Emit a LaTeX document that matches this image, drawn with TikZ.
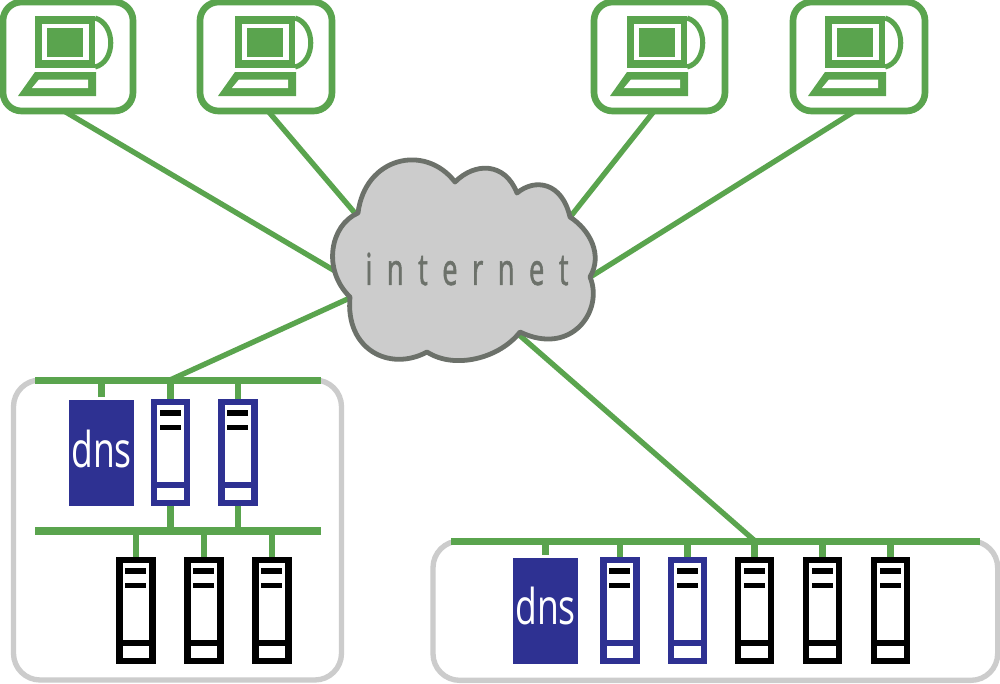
\documentclass[tikz,border=0pt]{standalone}
\usepackage{fontspec}
\newfontfamily\dnsfont[FakeStretch=0.72]{Open Sans}
\newfontfamily\netfont[FakeStretch=0.62,LetterSpace=33,FakeBold=1.2]{Open Sans}
\definecolor{grn}{HTML}{5AA44E}
\definecolor{blu}{HTML}{2E3192}
\definecolor{panel}{HTML}{CCCCCC}
\definecolor{cloudline}{HTML}{6C716A}
\definecolor{nettext}{HTML}{6C716A}
\tikzset{
  wire/.style={draw=grn,line width=4pt},
  stub/.style={draw=grn,line width=5pt},
  busbar/.style={fill=grn,inner sep=0pt,outer sep=0pt,minimum height=5.4pt},
  panelbox/.style={draw=panel,line width=4pt,rounded corners=20pt,inner sep=0pt,outer sep=0pt},
  pcbox/.style={draw=grn,fill=white,line width=5pt,rounded corners=14pt,inner sep=0pt,outer sep=0pt,minimum height=81.75pt},
  srvframe/.style={line width=4.8pt,fill=white,inner sep=0pt,outer sep=0pt,minimum width=24.75pt,minimum height=75.75pt},
  dnsbox/.style={fill=blu,text=white,inner sep=0pt,outer sep=0pt,minimum width=48.75pt,minimum height=79.5pt},
  dnstext/.style={text=white,inner sep=0pt,font=\dnsfont\fontsize{37}{37}\selectfont},
  cloudshape/.style={fill=panel,draw=cloudline,line width=3.6pt,line join=round},
  nettextnode/.style={text=nettext,inner sep=0pt,font=\netfont\fontsize{33}{33}\selectfont}
}
\newcommand{\pcicon}[4]{%
  \node[pcbox,minimum width=#4*0.75pt] (#1) at (#3,56.5) {};
  \begin{scope}[shift={(#2,0)}]
    \fill[grn] (35,16) rectangle (95,68);
    \fill[white] (42,24) rectangle (89,60);
    \fill[grn] (47,27.5) rectangle (83,57);
    \draw[grn,line width=3.8pt] (95,18) .. controls (116,24) and (116,62) .. (95,67);
    \fill[grn] (35,72) -- (96,72) -- (96,96) -- (18,96) -- cycle;
    \fill[white] (39,79.5) -- (88,79.5) -- (88,88) -- (32,88) -- cycle;
  \end{scope}}
\newcommand{\srv}[4]{% name, cx, top, colour
  \node[srvframe,draw=#4,anchor=north] (#1) at (#2,#3+3) {};
  \begin{scope}[shift={(#2,#3)}]
    \fill[#4] (-16.5,83) rectangle (16.5,88.5);
    \fill[black] (-11,11) rectangle (10,17);
    \fill[black] (-11,26) rectangle (10,30.5);
  \end{scope}}
\begin{document}
\begin{tikzpicture}[x=0.75pt,y=-0.75pt]
\useasboundingbox (0,0) rectangle (1000,683);
\fill[white] (0,0) rectangle (1000,683);
\node[panelbox,minimum width=246pt,minimum height=225pt,anchor=north west] (panelL) at (13.5,380) {};
\node[panelbox,minimum width=423.5pt,minimum height=104.5pt,anchor=north west] (panelR) at (433,541) {};
\fill[white] (0,0) rectangle (1000,378);
\pcicon{pcA}{0}{68}{130}
\pcicon{pcB}{200}{266}{132}
\pcicon{pcC}{592}{659.5}{131}
\pcicon{pcD}{790}{859}{132}
\node[busbar,minimum width=214.5pt] (busLa) at (178,380.5) {};
\node[busbar,minimum width=214.5pt] (busLb) at (178,531) {};
\node[busbar,minimum width=396.75pt] (busR) at (715.5,541.5) {};
\coordinate (ca) at (335,271);
\coordinate (cb) at (360,219);
\coordinate (cc) at (567,221);
\coordinate (cd) at (587,279);
\coordinate (ce) at (352,297);
\coordinate (cf) at (517,333);
\coordinate (jl) at (170,380);
\coordinate (jr) at (755,541);
\draw[wire] ([xshift=-3pt]pcA.south) -- (ca);
\draw[wire] ([xshift=1.5pt]pcB.south) -- (cb);
\draw[wire] ([xshift=-4pt]pcC.south) -- (cc);
\draw[wire] ([xshift=-3pt]pcD.south) -- (cd);
\draw[wire] (jl) -- (ce);
\draw[wire] (jr) -- (cf);
\path[cloudshape] (358,213)
  .. controls (365,157) and (425,143) .. (455,182)
  .. controls (475,162) and (505,162) .. (517,193)
  .. controls (535,178) and (562,182) .. (570,217)
  .. controls (590,230) and (603,255) .. (590,277)
  .. controls (604,310) and (572,357) .. (520,332)
  .. controls (500,358) and (455,370) .. (427,352)
  .. controls (390,372) and (345,350) .. (350,297)
  .. controls (322,270) and (330,225) .. cycle;
\node[nettextnode] (cloud) at (467,269) {internet};
\node[dnsbox] (dnsL) at (101.5,453) {};
\node[dnstext] (dnsLt) at (101.5,449) {dns};
\srv{sa}{170.5}{399}{blu}
\srv{sb}{238}{399}{blu}
\srv{sc}{136}{557}{black}
\srv{sd}{204}{557}{black}
\srv{se}{272}{557}{black}
\node[dnsbox] (dnsR) at (545.5,610.5) {};
\node[dnstext] (dnsRt) at (545.5,606) {dns};
\srv{sf}{620}{557}{blu}
\srv{sg}{687.5}{557}{blu}
\srv{sh}{754.5}{557}{black}
\srv{si}{822.5}{557}{black}
\srv{sj}{890.5}{557}{black}
\foreach \n in {dnsL,sa,sb}{\draw[stub] (\n.north) ++(0,-3) -- (\n.north |- busLa.center);}
\foreach \n in {sa,sb}{\draw[stub] (\n.south) ++(0,3) -- (\n.south |- busLb.center);}
\foreach \n in {sc,sd,se}{\draw[stub] (\n.north) ++(0,-3) -- (\n.north |- busLb.center);}
\foreach \n in {dnsR,sf,sg,sh,si,sj}{\draw[stub] (\n.north) ++(0,-3) -- (\n.north |- busR.center);}
\end{tikzpicture}
\end{document}
